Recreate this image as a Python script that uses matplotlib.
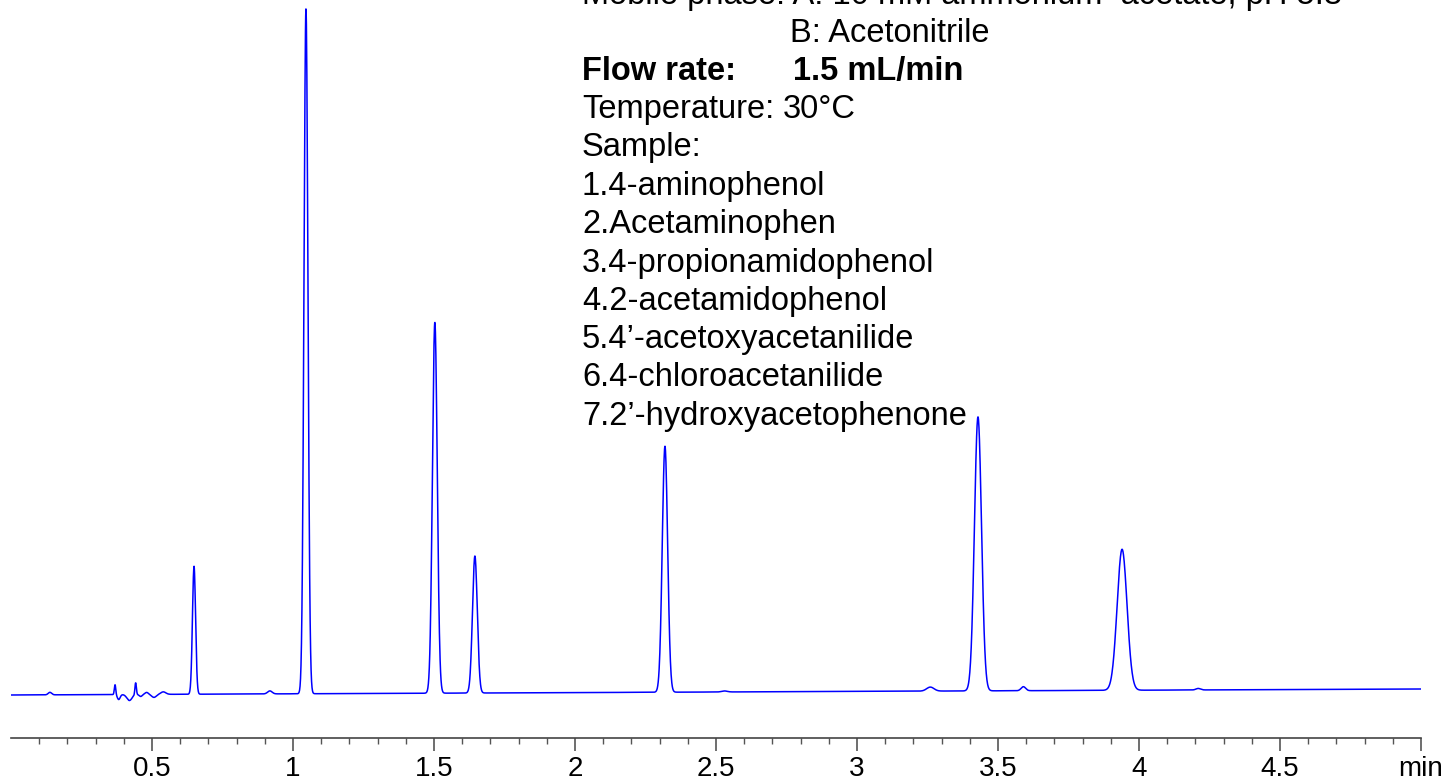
# -*- coding: utf-8 -*-

# HPLC chromatogram of acetaminophen and related compounds

import numpy as np
import matplotlib
matplotlib.use("Agg")
import matplotlib.pyplot as plt

plt.rcParams['font.family'] = ['Liberation Sans', 'DejaVu Sans']

# main peaks: retention time (min), height (mAU), sigma (min)
peak_times = [0.649, 1.046, 1.503, 1.645, 2.319, 3.429, 3.940]
peak_heights = [128, 685, 371, 137, 246, 274, 141]
peak_sigmas = [0.0055, 0.0070, 0.0085, 0.0085, 0.0095, 0.0125, 0.0175]

# small bumps and the injection disturbance
minor_times = [0.138, 0.369, 0.382, 0.420, 0.442, 0.460, 0.481, 0.507, 0.540,
               0.918, 2.530, 3.260, 3.590, 4.210]
minor_heights = [2.5, 10, -5, -6, 12, -2, 2, -3, 2.5,
                 3, 1, 4, 4, 1.5]
minor_sigmas = [0.006, 0.0025, 0.005, 0.009, 0.0025, 0.005, 0.006, 0.008, 0.009,
                0.008, 0.010, 0.013, 0.008, 0.008]

# baseline level at start and end of run (mAU)
baseline_start = 0.0
baseline_end = 6.0

tick_values = [0.5, 1, 1.5, 2, 2.5, 3, 3.5, 4, 4.5, 5]
tick_labels = ['0.5', '1', '1.5', '2', '2.5', '3', '3.5', '4', '4.5', 'min']

t = np.linspace(0, 5, 6001)
signal = baseline_start + (baseline_end - baseline_start) * t / 5.0
for rt, h, s in zip(peak_times + minor_times, peak_heights + minor_heights,
                    peak_sigmas + minor_sigmas):
    signal = signal + h * np.exp(-0.5 * ((t - rt) / s) ** 2)

W, H = 1445, 781
fig = plt.figure(figsize=(W / 100, H / 100), dpi=100)
ax = fig.add_axes([11 / W, 1 - 738 / H, (1421 - 11) / W, 738 / H])
ax.plot(t, signal, color=(0, 0, 1), lw=1.1)
ax.set_xlim(0, 5)
ax.set_ylim(-43, 695)

for side in ['top', 'right', 'left']:
    ax.spines[side].set_visible(False)
ax.spines['bottom'].set_color('#444444')
ax.spines['bottom'].set_linewidth(1.2)
ax.set_yticks([])
ax.set_xticks(tick_values)
ax.set_xticklabels(tick_labels, fontsize=20)
ax.set_xticks(np.arange(0.1, 5.0, 0.1), minor=True)
ax.tick_params(axis='x', which='major', direction='out', length=9, width=1.2,
               color='#555555', pad=4)
ax.tick_params(axis='x', which='minor', direction='out', length=4.5, width=1.0,
               color='#555555')


def put(x, y, s, **kw):
    fig.text(x / W, 1 - y / H, s, fontsize=23.5, va='baseline', ha='left', **kw)


put(582, 4, 'Mobile phase: A: 10 mM ammonium  acetate, pH 5.8')
put(790, 42, 'B: Acetonitrile')
put(582, 80, 'Flow rate:', fontweight='bold')
put(793, 80, '1.5 mL/min', fontweight='bold')
put(582, 118, 'Temperature:')
put(783, 118, '30°C')
put(582, 156, 'Sample:')
samples = ['1.4-aminophenol', '2.Acetaminophen', '3.4-propionamidophenol',
           '4.2-acetamidophenol', '5.4\u2019-acetoxyacetanilide',
           '6.4-chloroacetanilide', '7.2\u2019-hydroxyacetophenone']
for i, name in enumerate(samples):
    put(582, 195 + 38.3 * i, name)

fig.savefig("out.png", dpi=100)
